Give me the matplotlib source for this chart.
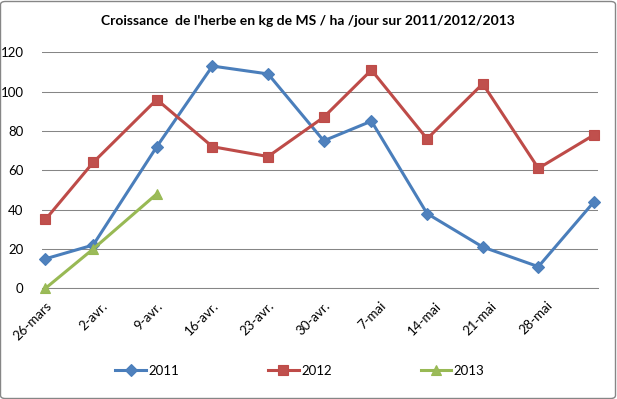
"""Croissance de l'herbe 2011/2012/2013 (Excel-style line chart)."""
import matplotlib
matplotlib.use("Agg")
import matplotlib.pyplot as plt
from matplotlib.patches import FancyBboxPatch

plt.rcParams["font.family"] = ["Lato", "DejaVu Sans"]

# measurement dates, in days after 26 March
DAYS = [0, 6, 14, 21, 28, 35, 41, 48, 55, 62, 69]
Y2011 = [15, 22, 72, 113, 109, 75, 85, 38, 21, 11, 44]
Y2012 = [35, 64, 96, 72, 67, 87, 111, 76, 104, 61, 78]
Y2013 = [0, 20, 48]

TICK_DAYS = [0, 7, 14, 21, 28, 35, 42, 49, 56, 63]
TICK_LABELS = ["26-mars", "2-avr.", "9-avr.", "16-avr.", "23-avr.", "30-avr.",
               "7-mai", "14-mai", "21-mai", "28-mai"]
Y_TICKS = [0, 20, 40, 60, 80, 100, 120]

TITLE = "Croissance  de l'herbe en kg de MS / ha /jour sur 2011/2012/2013"

SERIES = [
    ("2011", Y2011, "#4A7EBB", "#4F81BD", "D", 6.0),
    ("2012", Y2012, "#BE4B48", "#C0504D", "s", 6.5),
    ("2013", Y2013, "#98B954", "#9BBB59", "^", 7.5),
]

W, H = 617, 399
fig = plt.figure(figsize=(W / 100, H / 100), dpi=100)
ax = fig.add_axes([41.5 / W, 1 - 288.3 / H, (598 - 41.5) / W, (288.3 - 52.3) / H])

for name, ys, lc, mc, mk, ms in SERIES:
    ax.plot(DAYS[:len(ys)], ys, color=lc, lw=2.2, marker=mk, ms=ms,
            mfc=mc, mec=lc, mew=0.8, label=name, clip_on=False, zorder=3)

ax.set_xlim(-0.5, 69.5)
ax.set_ylim(0, 120)
ax.set_yticks(Y_TICKS)
ax.set_xticks(TICK_DAYS)
ax.set_xticklabels(TICK_LABELS, rotation=45, ha="right", va="top",
                   rotation_mode="anchor", fontsize=9.5)
ax.tick_params(axis="both", length=0, labelsize=9.5, colors="black")
ax.tick_params(axis="x", pad=8)
ax.tick_params(axis="y", pad=13)
ax.grid(axis="y", color="#868686", lw=0.75)
ax.set_axisbelow(True)
for s in ["left", "right", "top"]:
    ax.spines[s].set_visible(False)
ax.spines["bottom"].set_color("#868686")
ax.spines["bottom"].set_linewidth(0.75)

fig.text(308 / W, 1 - 21 / H, TITLE, ha="center", va="center",
         fontsize=10, fontweight="bold")

fig.legend(loc="center", bbox_to_anchor=(300 / W, 1 - 371 / H), ncol=3,
           frameon=False, fontsize=9.5, handlelength=2.3,
           handletextpad=0.2, columnspacing=6.75)

fig.patches.append(FancyBboxPatch((0.5 / W, 0.5 / H), (W - 2) / W, (H - 2) / H,
                                  boxstyle="round,pad=0,rounding_size=0.008",
                                  transform=fig.transFigure, fill=False,
                                  edgecolor="#868686", lw=1))

fig.savefig("out.png", dpi=100)
